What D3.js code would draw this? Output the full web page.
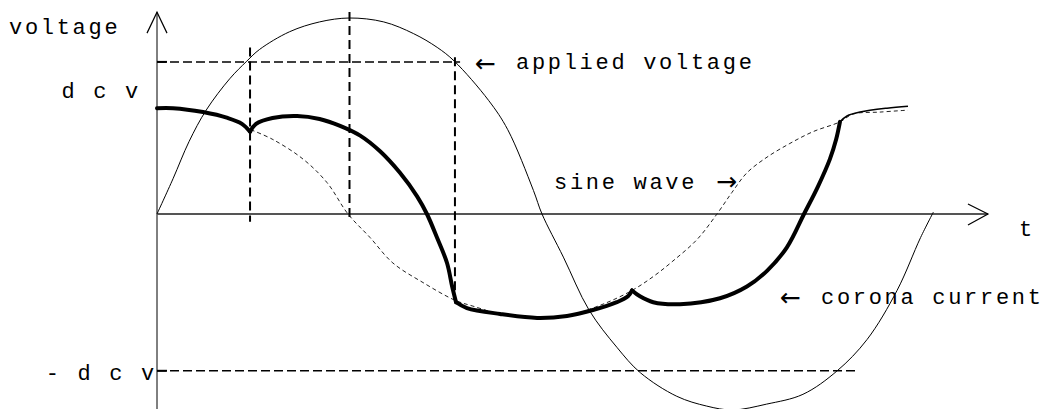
<!DOCTYPE html>
<html>
<head>
<meta charset="utf-8">
<script src="https://cdn.jsdelivr.net/npm/d3@7"></script>
<style>
  html, body { margin: 0; padding: 0; background: #fff; }
  text { font-family: "Liberation Mono", monospace; font-size: 22px; letter-spacing: 2.7px; fill: #000; }
  .arrow-glyph { font-family: "DejaVu Sans", sans-serif; font-size: 25px; letter-spacing: 0; }
</style>
</head>
<body>
<svg id="chart" width="1044" height="409"></svg>
<script>
// t in degrees of the applied wave, v as a fraction of its peak
const appliedVoltage = [
    [0, 0], [7.5, 0.18], [15, 0.37], [23, 0.53], [34, 0.69], [42, 0.78], [48, 0.84],
    [62, 0.93], [76, 0.98], [90, 1.0], [106, 0.98], [120, 0.92], [131, 0.85], [139, 0.78],
    [155, 0.58], [164, 0.43], [176, 0.12], [180, 0], [190, -0.22], [202, -0.49],
    [215, -0.68], [226, -0.81], [243, -0.93], [257, -0.98], [269, -1.0], [285, -0.97],
    [302, -0.92], [318, -0.80], [332, -0.64], [346, -0.39], [357, -0.12], [363, 0.01]
];

// corona current, split at the kinks
const coronaCurrent = [
    [[0, 0.54], [7.5, 0.54], [21.5, 0.52], [33, 0.49], [39.7, 0.46], [43.5, 0.42]],
    [[43.5, 0.42], [46.3, 0.46], [54, 0.49], [65.5, 0.50], [76, 0.485], [85.6, 0.45],
     [95, 0.40], [104.3, 0.32], [113.6, 0.21], [121.6, 0.09], [126.2, 0], [130.9, -0.12],
     [135.6, -0.25], [138, -0.37], [139.8, -0.45]],
    [[139.8, -0.45], [144.9, -0.48], [160.4, -0.51], [177.7, -0.53], [191.7, -0.52],
     [203.8, -0.49], [215, -0.45], [220.2, -0.42], [222.1, -0.39]],
    [[222.1, -0.39], [225.8, -0.42], [232, -0.45], [244.5, -0.46], [263.2, -0.43],
     [275.8, -0.37], [285.2, -0.29], [294.5, -0.17], [302.5, 0], [309, 0.14],
     [314.6, 0.28], [317.5, 0.38], [319.3, 0.47]]
];
const coronaTail = [[319.3, 0.47], [322.6, 0.50], [328.7, 0.52], [341.3, 0.54], [351.1, 0.55]];

const sineWave = [
    [43.9, 0.43], [54.2, 0.38], [68.3, 0.28], [79.5, 0.16], [89.3, 0], [99.6, -0.12],
    [110.3, -0.25], [124.4, -0.35], [139.3, -0.44], [147.7, -0.47], [160.4, -0.51],
    [177.7, -0.53], [191.7, -0.52], [208.5, -0.46], [222.1, -0.39], [231.9, -0.32],
    [241.2, -0.24], [252.5, -0.13], [261.8, 0], [268.8, 0.11], [275.8, 0.21],
    [285.2, 0.29], [295.9, 0.36], [306.7, 0.42], [319.3, 0.47], [325.4, 0.51],
    [338, 0.52], [351.1, 0.53]
];

const dcvLevel = 0.776;
const dcvLines = [
    { v: dcvLevel, tEnd: 141.7, label: 'd c v', labelV: 0.63, labelT: -7.5 },
    { v: -0.80, tEnd: 327.3, label: '- d c v', labelV: -0.81, labelT: 0 }
];
// vertical markers: time, top, bottom
const markerTimes = [43.5, 90, 139.3];
const markerTops = [0.85, 1.03, 0.80];
const markerBottoms = [-0.04, -0.04, -0.40];

const tMax = 388.5, vTop = 1.03;

const svg = d3.select('#chart');
const x = d3.scaleLinear().domain([0, 360]).range([157, 927]);
const y = d3.scaleLinear().domain([-1, 1]).range([410, 18]);

const smooth = d3.line()
    .x(d => x(d[0]))
    .y(d => y(d[1]))
    .curve(d3.curveCatmullRom.alpha(0.5));

// axes
svg.append('line')
    .attr('x1', x(0)).attr('x2', x(0))
    .attr('y1', y(vTop)).attr('y2', 409)
    .attr('stroke', '#000').attr('stroke-width', 1);
svg.append('path')
    .attr('d', `M${x(0) - 10},${y(vTop) + 21}L${x(0)},${y(vTop)}L${x(0) + 10},${y(vTop) + 21}`)
    .attr('fill', 'none').attr('stroke', '#000').attr('stroke-width', 1.2);

svg.append('line')
    .attr('x1', x(0)).attr('x2', x(tMax))
    .attr('y1', y(0)).attr('y2', y(0))
    .attr('stroke', '#555').attr('stroke-width', 2);
svg.append('path')
    .attr('d', `M${x(tMax) - 20},${y(0) - 10}L${x(tMax)},${y(0)}L${x(tMax) - 20},${y(0) + 11}`)
    .attr('fill', 'none').attr('stroke', '#000').attr('stroke-width', 1.2);

// dc voltage levels
dcvLines.forEach(d => {
    svg.append('line')
        .attr('x1', x(0)).attr('x2', x(d.tEnd))
        .attr('y1', y(d.v)).attr('y2', y(d.v))
        .attr('stroke', '#000').attr('stroke-width', 1.5)
        .attr('stroke-dasharray', '9,4');
    svg.append('line')
        .attr('x1', x(0)).attr('x2', x(0) + 10)
        .attr('y1', y(d.v)).attr('y2', y(d.v))
        .attr('stroke', '#000').attr('stroke-width', 2);
});

// vertical markers
markerTimes.forEach((t, i) => {
    svg.append('line')
        .attr('x1', x(t)).attr('x2', x(t))
        .attr('y1', y(markerTops[i])).attr('y2', y(markerBottoms[i]))
        .attr('stroke', '#000').attr('stroke-width', 2)
        .attr('stroke-dasharray', '9,5');
});

// applied voltage
svg.append('path')
    .attr('d', smooth(appliedVoltage))
    .attr('fill', 'none').attr('stroke', '#000').attr('stroke-width', 1);

// reference sine wave
svg.append('path')
    .attr('d', smooth(sineWave))
    .attr('fill', 'none').attr('stroke', '#222').attr('stroke-width', 1)
    .attr('stroke-dasharray', '4,3');

// corona current
coronaCurrent.forEach(seg => {
    svg.append('path')
        .attr('d', smooth(seg))
        .attr('fill', 'none').attr('stroke', '#000').attr('stroke-width', 4)
        .attr('stroke-linejoin', 'round').attr('stroke-linecap', 'round');
});
svg.append('path')
    .attr('d', smooth(coronaTail))
    .attr('fill', 'none').attr('stroke', '#000').attr('stroke-width', 1.5);

// labels
svg.append('text').attr('x', 9).attr('y', 34).text('voltage');
svg.append('text').attr('x', 1019).attr('y', 236).text('t');

dcvLines.forEach(d => {
    svg.append('text')
        .attr('x', x(d.labelT)).attr('y', y(d.labelV) + 7)
        .attr('text-anchor', 'end')
        .text(d.label);
});

svg.append('text').attr('class', 'arrow-glyph').attr('x', 475).attr('y', 72).text('←');
svg.append('text').attr('x', 516).attr('y', 69).text('applied voltage');

svg.append('text').attr('x', 554).attr('y', 189).text('sine wave');
svg.append('text').attr('class', 'arrow-glyph').attr('x', 716).attr('y', 190).text('→');

svg.append('text').attr('class', 'arrow-glyph').attr('x', 780).attr('y', 306).text('←');
svg.append('text').attr('x', 821).attr('y', 304).text('corona current');
</script>
</body>
</html>
